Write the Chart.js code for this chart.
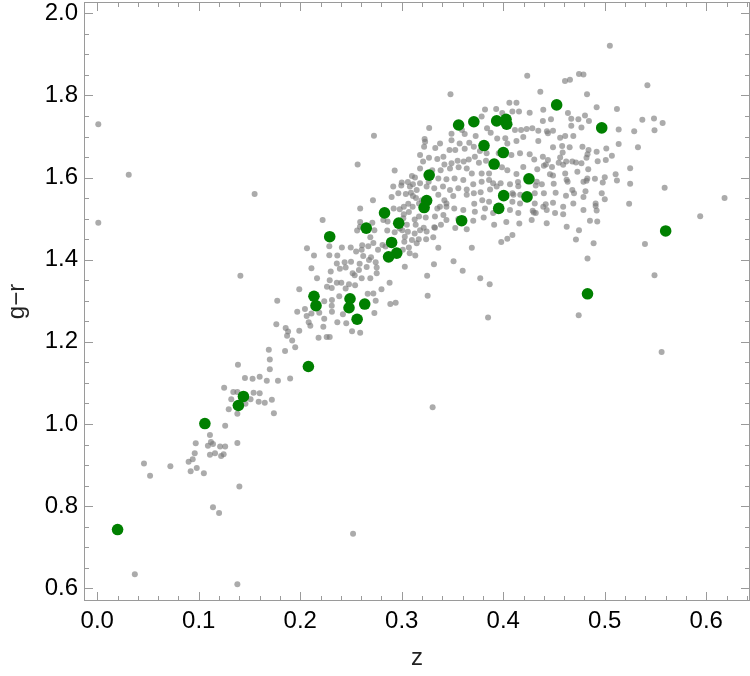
<!DOCTYPE html>
<html lang="en">
<head>
<meta charset="UTF-8">
<title>g−r vs z</title>
<script src="https://cdn.jsdelivr.net/npm/chart.js@4.4.1/dist/chart.umd.min.js"></script>
<style>
  html, body { margin: 0; padding: 0; background: #fff; }
</style>
</head>
<body>
<canvas id="myChart" width="750" height="676"></canvas>
<script>
    // tick values
    const xTicks = [0.0, 0.1, 0.2, 0.3, 0.4, 0.5, 0.6];
    const yTicks = [0.6, 0.8, 1.0, 1.2, 1.4, 1.6, 1.8, 2.0];

    // highlighted sample (green)
    const greenZ = [0.020, 0.106, 0.139, 0.144, 0.208, 0.2135, 0.2155, 0.229, 0.248, 0.249,
        0.256, 0.2635, 0.265, 0.283, 0.287, 0.290, 0.295, 0.297, 0.322, 0.3245,
        0.327, 0.356, 0.359, 0.371, 0.381, 0.391, 0.3935, 0.3955, 0.400, 0.4004,
        0.4027, 0.4034, 0.4234, 0.4253, 0.4526, 0.483, 0.497, 0.560];
    const greenY = [0.743, 1.001, 1.045, 1.067, 1.140, 1.311, 1.288, 1.456, 1.283, 1.305,
        1.255, 1.292, 1.477, 1.514, 1.407, 1.442, 1.416, 1.489, 1.527, 1.544,
        1.606, 1.728, 1.495, 1.736, 1.678, 1.633, 1.738, 1.525, 1.661, 1.556,
        1.742, 1.730, 1.553, 1.597, 1.777, 1.317, 1.721, 1.470];

    // full sample (grey)
    const grayZ = [
        0.001, 0.001, 0.031, 0.155, 0.037, 0.046, 0.052, 0.072, 0.090, 0.094,
        0.092, 0.098, 0.105, 0.097, 0.096, 0.111, 0.114, 0.109, 0.112, 0.111,
        0.116, 0.121, 0.122, 0.1245, 0.126, 0.126, 0.138, 0.140, 0.114, 0.120,
        0.138, 0.141, 0.1386, 0.1455, 0.153, 0.125, 0.134, 0.138, 0.154, 0.132,
        0.151, 0.146, 0.1295, 0.138, 0.252, 0.188, 0.187, 0.192, 0.199, 0.218,
        0.226, 0.229, 0.251, 0.259, 0.169, 0.185, 0.195, 0.170, 0.170, 0.160,
        0.167, 0.178, 0.190, 0.160, 0.159, 0.165, 0.172, 0.174, 0.2565, 0.2716,
        0.259, 0.222, 0.259, 0.271, 0.256, 0.273, 0.269, 0.2066, 0.2286, 0.241,
        0.2497, 0.261, 0.267, 0.272, 0.2135, 0.2286, 0.2365, 0.255, 0.2605, 0.262,
        0.2697, 0.2766, 0.250, 0.2437, 0.236, 0.2585, 0.2677, 0.2743, 0.211, 0.230,
        0.239, 0.2447, 0.2516, 0.2578, 0.2654, 0.2753, 0.2165, 0.229, 0.236, 0.2404,
        0.248, 0.2536, 0.2605, 0.269, 0.2753, 0.199, 0.2263, 0.231, 0.2447, 0.254,
        0.2664, 0.272, 0.1773, 0.2236, 0.2312, 0.231, 0.2384, 0.2743, 0.2046, 0.197,
        0.2063, 0.211, 0.2187, 0.2312, 0.242, 0.2453, 0.2365, 0.2236, 0.2083, 0.2099,
        0.2227, 0.1764, 0.1856, 0.273, 0.322, 0.323, 0.318, 0.293, 0.313, 0.306,
        0.300, 0.311, 0.318, 0.290, 0.2966, 0.304, 0.309, 0.314, 0.3064, 0.317,
        0.292, 0.298, 0.302, 0.307, 0.3127, 0.317, 0.3236, 0.286, 0.305, 0.3137,
        0.3216, 0.2857, 0.293, 0.3005, 0.306, 0.318, 0.3245, 0.324, 0.3167, 0.310,
        0.3025, 0.3147, 0.284, 0.301, 0.3078, 0.3133, 0.303, 0.325, 0.288, 0.281,
        0.3714, 0.3807, 0.391, 0.403, 0.4158, 0.429, 0.4418, 0.398, 0.404, 0.409,
        0.369, 0.351, 0.360, 0.3773, 0.3866, 0.3317, 0.3255, 0.336, 0.280, 0.2887,
        0.294, 0.385, 0.3304, 0.4716, 0.4746, 0.4743, 0.3527, 0.3386, 0.331, 0.303,
        0.3127, 0.332, 0.341, 0.3376, 0.344, 0.307, 0.525, 0.525, 0.524, 0.559,
        0.618, 0.594, 0.489, 0.5396, 0.483, 0.549, 0.556, 0.500, 0.491, 0.492,
        0.481, 0.4697, 0.4618, 0.482, 0.498, 0.500, 0.5107, 0.512, 0.493, 0.501,
        0.507, 0.492, 0.483, 0.4716, 0.462, 0.4546, 0.456, 0.444, 0.440, 0.449,
        0.4624, 0.4497, 0.432, 0.4145, 0.4066, 0.3974, 0.390, 0.3777, 0.410, 0.430,
        0.497, 0.505, 0.542, 0.4746, 0.479, 0.4608, 0.4657, 0.4825, 0.492, 0.512,
        0.4637, 0.467, 0.4805, 0.4844, 0.537, 0.5485, 0.557, 0.549, 0.529, 0.5137,
        0.467, 0.477, 0.469, 0.461, 0.456, 0.4654, 0.478, 0.5015, 0.5137, 0.5327,
        0.4585, 0.4236, 0.4365, 0.348, 0.406, 0.413, 0.393, 0.382, 0.409, 0.4155,
        0.399, 0.426, 0.4394, 0.447, 0.439, 0.474, 0.3787, 0.327, 0.2726, 0.384,
        0.3876, 0.4115, 0.4175, 0.423, 0.4286, 0.4345, 0.443, 0.449, 0.349, 0.3593,
        0.362, 0.3665, 0.3728, 0.349, 0.357, 0.3377, 0.3225, 0.347, 0.3527, 0.362,
        0.371, 0.377, 0.394, 0.402, 0.404, 0.413, 0.4197, 0.4345, 0.444, 0.449,
        0.458, 0.484, 0.333, 0.3268, 0.335, 0.341, 0.321, 0.342, 0.349, 0.355,
        0.361, 0.366, 0.372, 0.376, 0.383, 0.3836, 0.3955, 0.408, 0.4165, 0.426,
        0.4305, 0.439, 0.442, 0.448, 0.459, 0.468, 0.477, 0.482, 0.4837, 0.318,
        0.330, 0.3383, 0.3475, 0.356, 0.364, 0.369, 0.3787, 0.386, 0.3987, 0.404,
        0.413, 0.4197, 0.4335, 0.446, 0.461, 0.473, 0.4828, 0.4903, 0.310, 0.3265,
        0.336, 0.344, 0.352, 0.3606, 0.3704, 0.3787, 0.386, 0.4148, 0.433, 0.438,
        0.4634, 0.468, 0.479, 0.2916, 0.2995, 0.308, 0.3147, 0.3245, 0.332, 0.3406,
        0.3475, 0.3557, 0.364, 0.371, 0.387, 0.3935, 0.409, 0.4167, 0.431, 0.440,
        0.4516, 0.479, 0.491, 0.311, 0.3196, 0.336, 0.342, 0.3507, 0.364, 0.3793,
        0.386, 0.409, 0.4165, 0.431, 0.4394, 0.449, 0.459, 0.469, 0.302, 0.3107,
        0.335, 0.344, 0.3517, 0.3606, 0.372, 0.382, 0.390, 0.4066, 0.4148, 0.432,
        0.4428, 0.451, 0.459, 0.479, 0.2818, 0.3015, 0.3327, 0.344, 0.3557, 0.3704,
        0.428, 0.4428, 0.4625, 0.4854, 0.4926, 0.2588, 0.298, 0.3327, 0.364
    ];
    const grayY = [
        1.730, 1.490, 1.607, 1.560, 0.634, 0.904, 0.874, 0.897, 0.908, 0.914,
        0.885, 0.893, 0.880, 0.953, 0.929, 0.973, 0.951, 0.947, 0.956, 0.925,
        0.929, 0.945, 0.922, 0.926, 0.945, 0.996, 0.954, 0.848, 0.797, 0.783,
        0.610, 1.361, 1.144, 1.112, 1.110, 1.088, 1.078, 1.078, 1.076, 1.060,
        1.060, 1.049, 1.036, 1.025, 0.733, 1.225, 1.215, 1.203, 1.227, 1.210,
        1.212, 1.212, 1.226, 1.222, 1.181, 1.178, 1.187, 1.157, 1.133, 1.115,
        1.105, 1.105, 1.111, 1.075, 1.054, 1.052, 1.059, 1.026, 1.632, 1.545,
        1.525, 1.497, 1.492, 1.490, 1.471, 1.472, 1.455, 1.428, 1.433, 1.430,
        1.430, 1.435, 1.433, 1.441, 1.410, 1.411, 1.410, 1.420, 1.424, 1.409,
        1.406, 1.424, 1.395, 1.394, 1.391, 1.390, 1.399, 1.394, 1.379, 1.371,
        1.378, 1.381, 1.367, 1.375, 1.382, 1.381, 1.355, 1.350, 1.344, 1.344,
        1.340, 1.362, 1.355, 1.355, 1.367, 1.328, 1.334, 1.331, 1.330, 1.338,
        1.317, 1.318, 1.300, 1.299, 1.302, 1.288, 1.311, 1.300, 1.280, 1.273,
        1.263, 1.269, 1.271, 1.273, 1.267, 1.245, 1.248, 1.256, 1.248, 1.239,
        1.237, 1.243, 1.234, 1.270, 1.675, 1.687, 1.655, 1.617, 1.600, 1.589,
        1.588, 1.584, 1.586, 1.553, 1.562, 1.560, 1.563, 1.550, 1.536, 1.537,
        1.525, 1.523, 1.511, 1.516, 1.498, 1.505, 1.503, 1.493, 1.485, 1.485,
        1.478, 1.471, 1.467, 1.472, 1.468, 1.472, 1.469, 1.450, 1.450, 1.448,
        1.444, 1.440, 1.432, 1.424, 1.416, 1.410, 1.383, 1.361, 1.344, 1.436,
        1.536, 1.503, 1.485, 1.492, 1.488, 1.519, 1.535, 1.443, 1.451, 1.460,
        1.429, 1.396, 1.373, 1.355, 1.340, 1.389, 1.312, 1.429, 1.328, 1.292,
        1.295, 1.259, 1.041, 1.449, 1.472, 1.265, 1.477, 1.485, 1.455, 1.456,
        1.464, 1.479, 1.509, 1.529, 1.537, 1.430, 1.623, 1.585, 1.536, 1.575,
        1.550, 1.506, 1.440, 1.438, 1.403, 1.362, 1.175, 1.547, 1.531, 1.520,
        1.567, 1.562, 1.556, 1.592, 1.588, 1.601, 1.608, 1.593, 1.640, 1.643,
        1.653, 1.663, 1.657, 1.637, 1.639, 1.636, 1.649, 1.643, 1.629, 1.605,
        1.595, 1.585, 1.581, 1.589, 1.584, 1.586, 1.586, 1.564, 1.558, 1.515,
        1.562, 1.921, 1.825, 1.852, 1.851, 1.835, 1.838, 1.803, 1.771, 1.767,
        1.757, 1.743, 1.751, 1.738, 1.741, 1.744, 1.733, 1.715, 1.713, 1.717,
        1.726, 1.722, 1.701, 1.701, 1.697, 1.674, 1.675, 1.671, 1.682, 1.674,
        1.661, 1.848, 1.809, 1.803, 1.782, 1.782, 1.767, 1.766, 1.761, 1.761,
        1.757, 1.758, 1.765, 1.742, 1.738, 1.742, 1.749, 1.721, 1.702, 1.720,
        1.709, 1.716, 1.716, 1.718, 1.720, 1.714, 1.713, 1.714, 1.707, 1.716,
        1.706, 1.685, 1.701, 1.691, 1.683, 1.683, 1.694, 1.667, 1.667, 1.670,
        1.675, 1.665, 1.695, 1.696, 1.683, 1.689, 1.699, 1.689, 1.708, 1.674,
        1.677, 1.667, 1.672, 1.648, 1.645, 1.651, 1.639, 1.632, 1.635, 1.641,
        1.639, 1.644, 1.651, 1.636, 1.641, 1.659, 1.659, 1.655, 1.659, 1.657,
        1.644, 1.651, 1.632, 1.626, 1.631, 1.639, 1.635, 1.648, 1.620, 1.622,
        1.618, 1.618, 1.622, 1.625, 1.622, 1.610, 1.610, 1.610, 1.625, 1.618,
        1.609, 1.626, 1.620, 1.608, 1.610, 1.614, 1.598, 1.597, 1.604, 1.590,
        1.598, 1.596, 1.598, 1.594, 1.584, 1.590, 1.594, 1.579, 1.590, 1.584,
        1.590, 1.570, 1.590, 1.578, 1.581, 1.578, 1.570, 1.578, 1.574, 1.578,
        1.570, 1.574, 1.571, 1.562, 1.571, 1.578, 1.562, 1.558, 1.562, 1.562,
        1.563, 1.553, 1.537, 1.555, 1.545, 1.558, 1.545, 1.555, 1.558, 1.545,
        1.541, 1.541, 1.537, 1.537, 1.529, 1.539, 1.529, 1.537, 1.529, 1.529,
        1.525, 1.529, 1.525, 1.521, 1.517, 1.525, 1.514, 1.521, 1.514, 1.514,
        1.521, 1.514, 1.511, 1.521, 1.497, 1.501, 1.505, 1.497, 1.499, 1.495,
        1.497, 1.489, 1.480, 1.495, 1.493, 1.480, 1.476, 1.478, 1.474
    ];

    const fontFamily = "'Liberation Sans', Arial, Helvetica, sans-serif";
    const frameColor = '#9a9a9a';

    function toPoints(zs, ys) {
        return zs.map((z, i) => ({x: z, y: ys[i]}));
    }

    // no extra room for edge labels: the frame goes right to the canvas edges
    function noEdgePadding(s) {
        s.paddingTop = 0;
        s.paddingBottom = 0;
        s.paddingLeft = 0;
        s.paddingRight = 0;
    }

    // Mathematica-style frame with inward ticks on all four sides
    const framePlugin = {
        id: 'frame',
        afterDraw(chart) {
            const {ctx, chartArea: a, scales: {x, y}} = chart;
            ctx.save();
            ctx.strokeStyle = frameColor;
            ctx.lineWidth = 1;
            ctx.strokeRect(a.left - 0.5, a.top - 0.5, a.right - a.left + 1, a.bottom - a.top + 1);

            ctx.beginPath();
            // x: minor every 0.02, major every 0.1
            for (let i = 0; i <= 32; i++) {
                const px = Math.round(x.getPixelForValue(i * 0.02)) + 0.5;
                const len = i % 5 === 0 ? 8 : 4;
                ctx.moveTo(px, a.bottom);
                ctx.lineTo(px, a.bottom - len);
                ctx.moveTo(px, a.top);
                ctx.lineTo(px, a.top + len);
            }
            // y: minor every 0.05, major every 0.2
            for (let i = 12; i <= 40; i++) {
                const py = Math.round(y.getPixelForValue(i * 0.05)) + 0.5;
                const len = i % 4 === 0 ? 8 : 4;
                ctx.moveTo(a.left, py);
                ctx.lineTo(a.left + len, py);
                ctx.moveTo(a.right, py);
                ctx.lineTo(a.right - len, py);
            }
            ctx.stroke();
            ctx.restore();
        }
    };

    const ctx = document.getElementById('myChart').getContext('2d');

    new Chart(ctx, {
        type: 'scatter',
        data: {
            datasets: [
                {
                    label: 'selected',
                    data: toPoints(greenZ, greenY),
                    backgroundColor: '#008000',
                    borderWidth: 0,
                    pointRadius: 5.8,
                    pointHoverRadius: 5.8
                },
                {
                    label: 'all',
                    data: toPoints(grayZ, grayY),
                    backgroundColor: 'rgba(120, 120, 120, 0.62)',
                    borderWidth: 0,
                    pointRadius: 3,
                    pointHoverRadius: 3
                }
            ]
        },
        options: {
            responsive: false,
            animation: false,
            devicePixelRatio: 1,
            layout: {
                autoPadding: false,
                padding: {top: 3, right: 1, left: 0, bottom: 0}
            },
            plugins: {
                legend: {display: false},
                tooltip: {enabled: false}
            },
            scales: {
                x: {
                    type: 'linear',
                    min: -0.0121,
                    max: 0.6421,
                    afterBuildTicks: s => { s.ticks = xTicks.map(v => ({value: v})); },
                    afterFit: s => { s.height = 76; noEdgePadding(s); },
                    grid: {display: false, drawTicks: false},
                    border: {display: false},
                    ticks: {
                        padding: 7,
                        color: '#000',
                        autoSkip: false,
                        maxRotation: 0,
                        font: {family: fontFamily, size: 24},
                        callback: v => v.toFixed(1)
                    },
                    title: {
                        display: true,
                        text: 'z',
                        color: '#222',
                        font: {family: fontFamily, size: 24},
                        padding: {top: 0, bottom: 3}
                    }
                },
                y: {
                    type: 'linear',
                    min: 0.5714,
                    max: 2.0251,
                    afterBuildTicks: s => { s.ticks = yTicks.map(v => ({value: v})); },
                    afterFit: s => { s.width = 85; noEdgePadding(s); },
                    grid: {display: false, drawTicks: false},
                    border: {display: false},
                    ticks: {
                        padding: 7,
                        color: '#000',
                        autoSkip: false,
                        font: {family: fontFamily, size: 24},
                        callback: v => v.toFixed(1)
                    },
                    title: {
                        display: true,
                        text: 'g−r',
                        color: '#222',
                        font: {family: fontFamily, size: 24},
                        padding: {top: 3, bottom: 0}
                    }
                }
            }
        },
        plugins: [framePlugin]
    });
</script>
</body>
</html>
